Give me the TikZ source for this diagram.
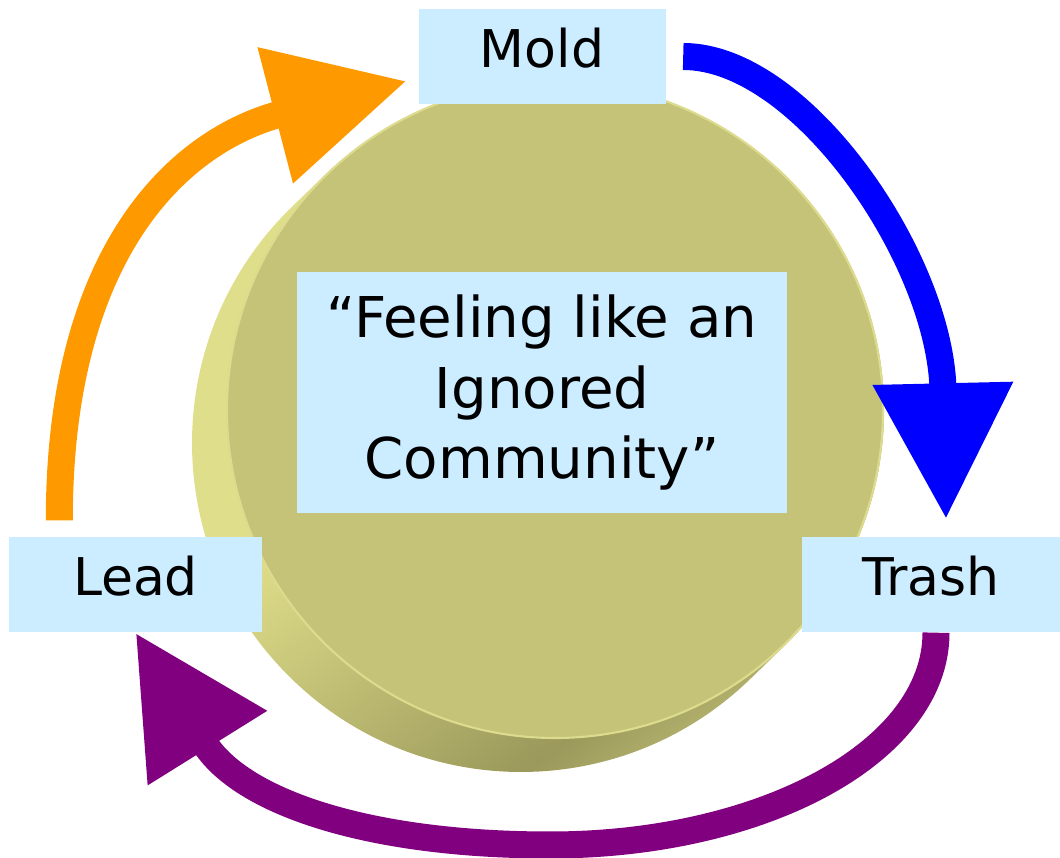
\documentclass[tikz,border=0pt]{standalone}
\usepackage{fontspec}
\setmainfont{DejaVu Sans}
\usepackage{xcolor}
\usepackage{tikz}
\usetikzlibrary{positioning}
\usetikzlibrary{calc}
\usetikzlibrary{arrows.meta}

\definecolor{boxblue}{HTML}{CCECFF}
\definecolor{discface}{HTML}{C4C378}
\definecolor{discrim}{HTML}{DCDB8E}
\definecolor{sidelight}{HTML}{DFDE8A}
\definecolor{sidedark}{HTML}{9B995B}
\definecolor{sidemid}{HTML}{B9B771}
\definecolor{arrorange}{HTML}{FF9900}
\definecolor{arrblue}{HTML}{0000FF}
\definecolor{arrpurple}{HTML}{800080}

\pgfdeclarehorizontalshading{discside}{100bp}{color(0bp)=(sidelight); color(36bp)=(sidelight); color(50bp)=(sidedark); color(54bp)=(sidemid); color(100bp)=(sidemid)}

\begin{document}
\begin{tikzpicture}[auto, node distance = 1.92cm and 4.065cm, on grid, box/.style ={rectangle, fill = boxblue, inner sep = 0pt, minimum height = 0.95cm, text height = 11pt, text depth = 4.47pt, font = \fontsize{14.8pt}{18pt}\selectfont}, core/.style={rectangle, fill = boxblue, inner sep = 0pt, minimum width = 4.9cm, minimum height = 2.41cm, align = center, font = \fontsize{16pt}{20.1pt}\selectfont}, flow/.style={line width = 0.27cm, -{Triangle[length = 1.36cm, width = 1.33cm]}}]
\useasboundingbox (0,0) rectangle (10.6,8.58);
\coordinate (front) at (5.55,4.48);
\coordinate (back) at (5.21,4.15);
\begin{scope}
\clip (back) ++(134.15:3.29) arc[start angle = 134.15, end angle = 314.15, radius = 3.29] -- ($(front)+(314.15:3.29)$) arc[start angle = 314.15, end angle = 494.15, radius = 3.29] -- cycle;
\shade[shading = discside, shading angle = -52.3] (-0.7,-5.1) rectangle (11.3,6.9);
\end{scope}
\draw[fill = discface, draw = discrim, line width = 0.6pt] (front) circle[radius = 3.28];
\node[core] (core) at (5.42,4.655) {“Feeling like an\\Ignored\\Community”};
\node[box, minimum width = 2.47cm] (mold) [above = 3.36cm of core] {Mold};
\node[box, minimum width = 2.53cm] (lead) [below left = of core] {Lead};
\node[box, minimum width = 2.58cm] (trash) [below right = 1.92cm and 3.89cm of core] {Trash};
\coordinate (bottom) at (5.50,0.13);
\draw[flow, arrorange] ([xshift = 0.51cm, yshift = 0.16cm]lead.north west) .. controls +(0,2.71) and +(-2.26,-0.59) .. ([xshift = -0.11cm, yshift = -0.245cm]mold.west);
\draw[flow, arrblue] ([xshift = 0.17cm]mold.east) .. controls +(1.19,0) and +(-0.06,2.60) .. ([xshift = 0.15cm, yshift = 0.17cm]trash.north);
\draw[flow, arrpurple] ([xshift = 0.05cm]trash.south) .. controls +(0,-1.19) and +(2.13,0) .. (bottom) .. controls +(-1.80,0) and +(1.06,-1.70) .. (lead.south);
\end{tikzpicture}
\end{document}
